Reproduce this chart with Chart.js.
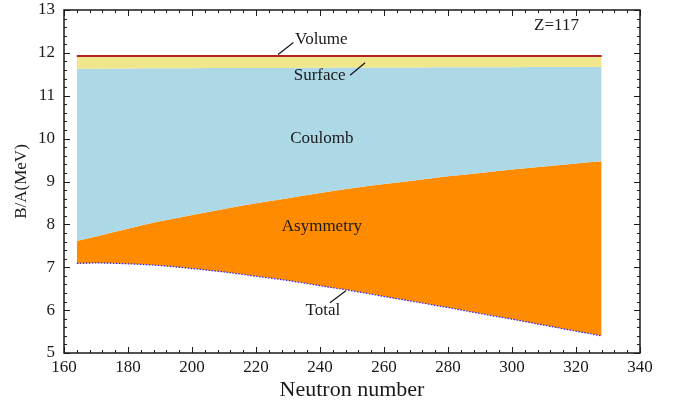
<!DOCTYPE html>
<html>
<head>
<meta charset="utf-8">
<script src="https://cdn.jsdelivr.net/npm/chart.js@4.4.1/dist/chart.umd.min.js"></script>
<style>
  html, body { margin: 0; padding: 0; background: #fff; }
  canvas { display: block; }
</style>
</head>
<body>
<canvas id="chart" width="673" height="404"></canvas>
<script>
// Binding energy per nucleon for Z = 117, split into liquid-drop terms.
// Each array is the running level after subtracting the next term.
const neutronNumber = [164, 170, 180, 190, 200, 210, 220, 230, 240, 250, 260, 270, 280, 290, 300, 310, 320, 328];
const volumeLevel   = [11.93, 11.93, 11.93, 11.93, 11.93, 11.93, 11.93, 11.93, 11.93, 11.93, 11.93, 11.93, 11.93, 11.93, 11.93, 11.93, 11.93, 11.93];
const surfaceLevel  = [11.630, 11.632, 11.636, 11.639, 11.642, 11.645, 11.648, 11.650, 11.653, 11.656, 11.658, 11.660, 11.663, 11.665, 11.667, 11.669, 11.671, 11.673];
const coulombLevel  = [7.61, 7.72, 7.90, 8.07, 8.22, 8.36, 8.49, 8.61, 8.73, 8.84, 8.94, 9.03, 9.12, 9.20, 9.28, 9.35, 9.42, 9.47];
const totalBA       = [7.09, 7.10, 7.08, 7.04, 6.97, 6.89, 6.79, 6.69, 6.57, 6.45, 6.32, 6.19, 6.06, 5.92, 5.79, 5.65, 5.51, 5.40];

const xTickValues = [160, 180, 200, 220, 240, 260, 280, 300, 320, 340];
const yTickValues = [5, 6, 7, 8, 9, 10, 11, 12, 13];

const SERIF = "'Liberation Serif', 'DejaVu Serif', serif";
const INK = '#1a1a1a';

const toPoints = ys => neutronNumber.map((n, i) => ({ x: n, y: ys[i] }));

// Text labels placed in data coordinates
const termLabels = [
  { text: 'Volume',    x: 232.2, y: 12.32, align: 'left' },
  { text: 'Surface',   x: 239.9, y: 11.48, align: 'center' },
  { text: 'Coulomb',   x: 240.6, y: 10.01, align: 'center' },
  { text: 'Asymmetry', x: 240.6, y: 7.96,  align: 'center' },
  { text: 'Total',     x: 240.9, y: 6.00,  align: 'center' },
  { text: 'Z=117',     x: 313.9, y: 12.63, align: 'center' }
];
const leaderLines = [
  [226.9, 11.96, 231.7, 12.24],
  [249.4, 11.48, 254.1, 11.77],
  [243.1, 6.17, 248.1, 6.45]
];

// Frame with inward major and minor ticks on all four sides
const framePlugin = {
  id: 'frame',
  afterDraw(chart) {
    const { ctx, chartArea: a, scales: { x, y } } = chart;
    ctx.save();
    ctx.strokeStyle = INK;
    ctx.lineWidth = 1;
    ctx.beginPath();
    for (let v = 160; v <= 340 + 1e-9; v += 4) {
      const px = Math.round(x.getPixelForValue(v)) + 0.5;
      const len = (Math.round(v) % 20 === 0) ? 6 : 3;
      ctx.moveTo(px, a.bottom); ctx.lineTo(px, a.bottom - len);
      ctx.moveTo(px, a.top);    ctx.lineTo(px, a.top + len);
    }
    for (let k = 0; k <= 40; k++) {
      const v = 5 + k * 0.2;
      const py = Math.round(y.getPixelForValue(v)) + 0.5;
      const len = (k % 5 === 0) ? 6 : 3;
      ctx.moveTo(a.left, py);  ctx.lineTo(a.left + len, py);
      ctx.moveTo(a.right, py); ctx.lineTo(a.right - len, py);
    }
    ctx.stroke();
    ctx.lineWidth = 1.5;
    ctx.strokeRect(a.left, a.top, a.right - a.left, a.bottom - a.top);
    ctx.restore();
  }
};

const labelPlugin = {
  id: 'termLabels',
  afterDatasetsDraw(chart) {
    const { ctx, scales: { x, y } } = chart;
    ctx.save();
    ctx.fillStyle = INK;
    ctx.font = '17px ' + SERIF;
    ctx.textBaseline = 'middle';
    termLabels.forEach(l => {
      ctx.textAlign = l.align;
      ctx.fillText(l.text, x.getPixelForValue(l.x), y.getPixelForValue(l.y));
    });
    ctx.strokeStyle = INK;
    ctx.lineWidth = 1.3;
    ctx.beginPath();
    leaderLines.forEach(([x1, y1, x2, y2]) => {
      ctx.moveTo(x.getPixelForValue(x1), y.getPixelForValue(y1));
      ctx.lineTo(x.getPixelForValue(x2), y.getPixelForValue(y2));
    });
    ctx.stroke();
    ctx.restore();
  }
};

new Chart(document.getElementById('chart'), {
  type: 'line',
  data: {
    datasets: [
      { // total, dotted, on top
        data: toPoints(totalBA), borderColor: '#2323ff', borderWidth: 1.2,
        borderDash: [1.5, 1.5], fill: false
      },
      { // volume line + surface band
        data: toPoints(volumeLevel), borderColor: '#b22222', borderWidth: 2,
        backgroundColor: '#f0e68c', fill: 2
      },
      { // coulomb band
        data: toPoints(surfaceLevel), borderWidth: 0, borderColor: 'rgba(0,0,0,0)',
        backgroundColor: '#add8e6', fill: 3
      },
      { // asymmetry band
        data: toPoints(coulombLevel), borderWidth: 0, borderColor: 'rgba(0,0,0,0)',
        backgroundColor: '#ff8c00', fill: 4
      },
      { // lower boundary of the asymmetry band
        data: toPoints(totalBA), borderWidth: 0, borderColor: 'rgba(0,0,0,0)', fill: false
      }
    ]
  },
  options: {
    responsive: false,
    animation: false,
    devicePixelRatio: 1,
    layout: { padding: { top: 10, right: 33, left: 0, bottom: 0 } },
    elements: {
      point: { radius: 0, hoverRadius: 0 },
      line: { tension: 0.4, cubicInterpolationMode: 'monotone' }
    },
    plugins: { legend: { display: false }, tooltip: { enabled: false } },
    scales: {
      x: {
        type: 'linear', position: 'bottom', min: 160, max: 340,
        afterBuildTicks: s => { s.ticks = xTickValues.map(v => ({ value: v })); },
        afterFit: s => { s.height = 51; s.paddingLeft = 0; s.paddingRight = 0; },
        grid: { display: false, drawTicks: false },
        border: { display: false },
        ticks: { font: { size: 17, family: SERIF }, color: INK, padding: 4, maxRotation: 0, autoSkip: false },
        title: { display: true, text: 'Neutron number', color: INK,
                 font: { size: 22, family: SERIF }, padding: { top: 0, bottom: 1 } }
      },
      y: {
        type: 'linear', position: 'left', min: 5, max: 13,
        afterBuildTicks: s => { s.ticks = yTickValues.map(v => ({ value: v })); },
        afterFit: s => { s.width = 64; s.paddingTop = 0; s.paddingBottom = 0; },
        grid: { display: false, drawTicks: false },
        border: { display: false },
        ticks: { font: { size: 17, family: SERIF }, color: INK, padding: 9 },
        title: { display: true, text: 'B/A(MeV)', color: INK,
                 font: { size: 17, family: SERIF }, padding: { top: 11, bottom: 0 } }
      }
    }
  },
  plugins: [framePlugin, labelPlugin]
});
</script>
</body>
</html>
